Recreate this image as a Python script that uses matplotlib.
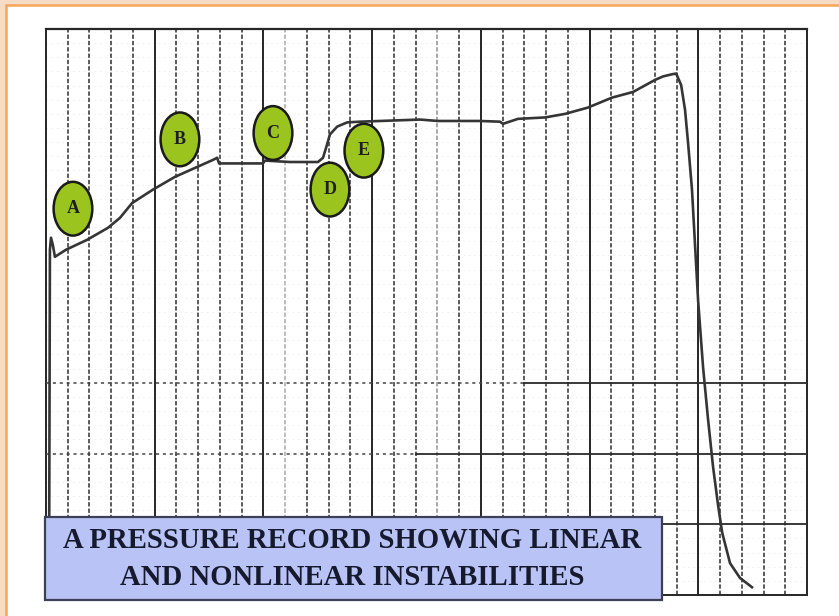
import numpy as np
import matplotlib.pyplot as plt
from matplotlib.patches import Ellipse, Rectangle

# Pressure trace (x: time divisions, y: pressure divisions)
t = [0.14, 0.18, 0.23, 0.32, 0.41, 0.92, 1.89, 2.85, 3.40, 3.96, 4.92, 5.93, 6.95,
     7.68, 7.87, 7.96, 9.98, 10.07, 11.22, 12.51, 12.74, 12.88, 13.06, 13.39, 13.85,
     14.44, 17.20, 18.03, 19.96, 20.88, 21.02, 21.71, 22.95, 23.87, 24.93, 26.03,
     27.00, 28.01, 28.38, 28.79, 28.98, 29.21, 29.39, 29.53, 29.71, 29.99, 30.22,
     30.45, 30.68, 30.91, 31.10, 31.46, 31.92, 32.47]
p = [0.00, 4.88, 5.05, 4.94, 4.78, 4.88, 5.02, 5.19, 5.33, 5.54, 5.73, 5.91, 6.05,
     6.15, 6.18, 6.10, 6.10, 6.14, 6.12, 6.12, 6.18, 6.32, 6.51, 6.62, 6.68,
     6.69, 6.72, 6.70, 6.70, 6.69, 6.66, 6.73, 6.75, 6.80, 6.89, 7.03,
     7.11, 7.28, 7.33, 7.36, 7.37, 7.21, 6.86, 6.39, 5.73, 4.17, 3.22,
     2.48, 1.81, 1.27, 0.88, 0.45, 0.24, 0.11]

# Instability markers
marker_labels = ['A', 'B', 'C', 'D', 'E']
marker_t = [1.24, 6.16, 10.44, 13.06, 14.62]
marker_p = [5.46, 6.44, 6.53, 5.73, 6.28]

title = 'A PRESSURE RECORD SHOWING LINEAR\nAND NONLINEAR INSTABILITIES'

W, H = 839, 616
fig = plt.figure(figsize=(W / 100, H / 100), dpi=100, facecolor='#f6dcc4')

# white page with orange frame (right/bottom edges fall outside the figure)
fig.patches.append(Rectangle((5.5 / W, -0.1), 1.2, 1.1 - 5 / H,
                             transform=fig.transFigure, facecolor='white',
                             edgecolor='#f7a55c', linewidth=1.8, zorder=-1))

ax = fig.add_axes([46 / W, 21 / H, 761 / W, 566 / H])
ax.set_xlim(0, 35)
ax.set_ylim(0, 8)
ax.axis('off')

# faint minor horizontal rulings of the chart paper
for y in np.arange(0.2, 8, 0.2):
    ax.plot([0, 35], [y, y], color='#9a9a9a', lw=0.7, ls=(0, (1.5, 4)),
            alpha=0.15, zorder=1)

# vertical rulings: solid every 5 divisions, dashed in between
faint = {11: 0.35, 18: 0.45}
for x in range(36):
    if x % 5 == 0:
        ax.plot([x, x], [0, 8], color='#262626', lw=1.4, clip_on=False, zorder=2)
    else:
        ax.plot([x, x], [0, 8], color='#303030', lw=1.3, ls=(0, (2.4, 1.1)),
                alpha=faint.get(x, 0.85), clip_on=False, zorder=2)

# major horizontal rulings, partly printed
ax.plot([0, 35], [8, 8], color='#262626', lw=1.6, clip_on=False, zorder=2)
ax.plot([0, 35], [0, 0], color='#262626', lw=1.4, clip_on=False, zorder=2)
ax.plot([0, 22], [3, 3], color='#444444', lw=1.1, ls=(0, (2, 2.5)), zorder=2)
ax.plot([22, 35], [3, 3], color='#2a2a2a', lw=1.3, zorder=2)
ax.plot([0, 17], [2, 2], color='#444444', lw=1.1, ls=(0, (2, 2.5)), zorder=2)
ax.plot([17, 35], [2, 2], color='#2a2a2a', lw=1.3, zorder=2)
ax.plot([25, 35], [1, 1], color='#2a2a2a', lw=1.3, zorder=2)

# pressure trace
ax.plot(t, p, color='#353535', lw=1.9, solid_joinstyle='round', zorder=3)

# labelled ellipses
for lab, x, y in zip(marker_labels, marker_t, marker_p):
    ax.add_patch(Ellipse((x, y), 1.78, 0.76, facecolor='#9cc41e',
                         edgecolor='#1a1a1a', lw=1.8, zorder=4))
    ax.text(x, y, lab, ha='center', va='center', fontsize=13, fontweight='bold',
            family='Liberation Serif', color='#1e1e1e', zorder=5)

# caption box
fig.patches.append(Rectangle((45 / W, (H - 600) / H), 617 / W, 83 / H,
                             transform=fig.transFigure, facecolor='#b9c3f5',
                             edgecolor='#3b4058', linewidth=1.6, zorder=6))
fig.text(352 / W, (H - 559) / H, title, ha='center', va='center',
         fontsize=20.7, fontweight='bold', family='Liberation Serif',
         color='#161a2e', linespacing=1.45, zorder=7)

plt.savefig('out.png', dpi=100)
